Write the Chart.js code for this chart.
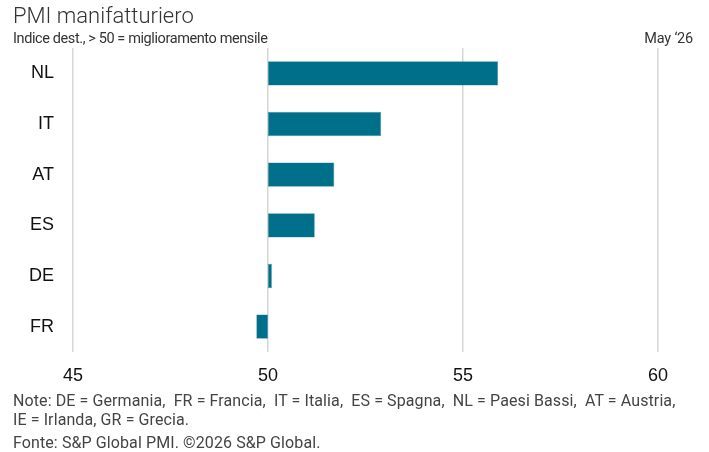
<!DOCTYPE html>
<html>
<head>
<meta charset="utf-8">
<script src="https://cdn.jsdelivr.net/npm/chart.js@4.4.1/dist/chart.umd.min.js"></script>
<style>
  html, body { margin: 0; padding: 0; background: #fff; }
  #wrap { position: relative; width: 709px; height: 452px; font-family: Roboto, "Liberation Sans", sans-serif; color: #333; }
  #wrap canvas { position: absolute; left: 0; top: 0; }
  .txt { position: absolute; white-space: nowrap; }
  #title { left: 13px; top: 3px; font-size: 22px; font-weight: 300; color: #333; }
  #sub { left: 13px; top: 30px; font-size: 14.5px; letter-spacing: -0.4px; color: #333; }
  #date { right: 16px; top: 30px; font-size: 14.5px; letter-spacing: -0.2px; color: #333; }
  #note { left: 13px; top: 391px; font-size: 16px; line-height: 19px; letter-spacing: 0.1px; color: #444; }
  #src { left: 13px; top: 433px; font-size: 16px; letter-spacing: 0.1px; color: #444; }
</style>
</head>
<body>
<div id="wrap">
  <canvas id="pmi" width="709" height="452"></canvas>
  <div class="txt" id="title">PMI manifatturiero</div>
  <div class="txt" id="sub">Indice dest., &gt; 50 = miglioramento mensile</div>
  <div class="txt" id="date">May ‘26</div>
  <div class="txt" id="note">Note: DE = Germania,&nbsp; FR = Francia,&nbsp; IT = Italia,&nbsp; ES = Spagna,&nbsp; NL = Paesi Bassi,&nbsp; AT = Austria,<br>IE = Irlanda, GR = Grecia.</div>
  <div class="txt" id="src">Fonte: S&amp;P Global PMI. ©2026 S&amp;P Global.</div>
</div>
<script>
const countries = ['NL', 'IT', 'AT', 'ES', 'DE', 'FR'];
const pmiValues = [55.9, 52.9, 51.7, 51.2, 50.1, 49.7];
const baseline = 50;
const xTicks = [45, 50, 55, 60];

const ctx = document.getElementById('pmi').getContext('2d');

new Chart(ctx, {
  type: 'bar',
  data: {
    labels: countries,
    datasets: [{
      data: pmiValues.map(v => [baseline, v]),
      backgroundColor: '#006f89',
      borderColor: '#3f8fa3',
      borderWidth: 0.6,
      borderSkipped: false,
      barPercentage: 0.48,
      categoryPercentage: 1
    }]
  },
  options: {
    indexAxis: 'y',
    responsive: false,
    animation: false,
    layout: { padding: { left: 13, right: 51, top: 48, bottom: 60 } },
    scales: {
      x: {
        min: 45,
        max: 60,
        afterBuildTicks: axis => { axis.ticks = xTicks.map(v => ({ value: v })); },
        afterFit: axis => { axis.height = 40; },
        border: { display: false },
        grid: { color: '#d6d6d6', lineWidth: 1.5, drawTicks: false },
        ticks: {
          padding: 13,
          color: '#111',
          font: { family: 'Liberation Sans', size: 18 }
        }
      },
      y: {
        afterFit: axis => { axis.width = 60; },
        border: { display: false },
        grid: { display: false, drawTicks: false },
        ticks: {
          padding: 19,
          color: '#111',
          font: { family: 'Liberation Sans', size: 18 }
        }
      }
    },
    plugins: {
      legend: { display: false },
      tooltip: { enabled: false }
    }
  }
});
</script>
</body>
</html>
